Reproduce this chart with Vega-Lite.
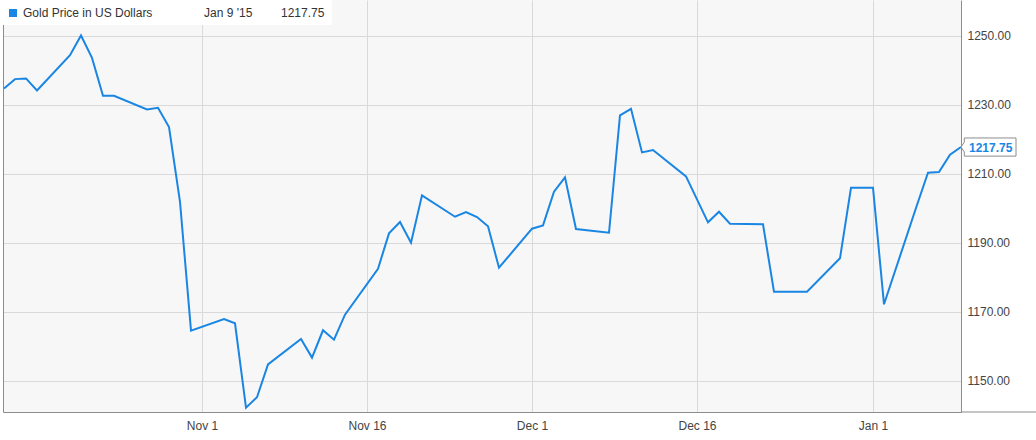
{
  "$schema": "https://vega.github.io/schema/vega-lite/v6.json",
  "width": 958,
  "height": 412,
  "autosize": {"type": "none"},
  "padding": {"left": 3, "top": 0, "right": 75, "bottom": 28},
  "background": "white",
  "config": {
    "view": {"fill": "#f7f7f7", "stroke": null},
    "font": "Liberation Sans",
    "text": {"font": "Liberation Sans"}
  },
  "datasets": {
    "gold": [
      {"date": "2014-10-14", "price": 1234.75},
      {"date": "2014-10-15", "price": 1237.45},
      {"date": "2014-10-16", "price": 1237.65},
      {"date": "2014-10-17", "price": 1234.17},
      {"date": "2014-10-20", "price": 1244.41},
      {"date": "2014-10-21", "price": 1250.12},
      {"date": "2014-10-22", "price": 1243.62},
      {"date": "2014-10-23", "price": 1232.61},
      {"date": "2014-10-24", "price": 1232.6},
      {"date": "2014-10-27", "price": 1228.67},
      {"date": "2014-10-28", "price": 1229.13},
      {"date": "2014-10-29", "price": 1223.54},
      {"date": "2014-10-30", "price": 1201.88},
      {"date": "2014-10-31", "price": 1164.49},
      {"date": "2014-11-03", "price": 1167.88},
      {"date": "2014-11-04", "price": 1166.64},
      {"date": "2014-11-05", "price": 1142.17},
      {"date": "2014-11-06", "price": 1145.19},
      {"date": "2014-11-07", "price": 1154.7},
      {"date": "2014-11-10", "price": 1162.09},
      {"date": "2014-11-11", "price": 1156.67},
      {"date": "2014-11-12", "price": 1164.61},
      {"date": "2014-11-13", "price": 1161.88},
      {"date": "2014-11-14", "price": 1169.13},
      {"date": "2014-11-17", "price": 1182.46},
      {"date": "2014-11-18", "price": 1192.72},
      {"date": "2014-11-19", "price": 1196.0},
      {"date": "2014-11-20", "price": 1190.0},
      {"date": "2014-11-21", "price": 1203.74},
      {"date": "2014-11-24", "price": 1197.54},
      {"date": "2014-11-25", "price": 1198.9},
      {"date": "2014-11-26", "price": 1197.45},
      {"date": "2014-11-27", "price": 1194.75},
      {"date": "2014-11-28", "price": 1182.75},
      {"date": "2014-12-01", "price": 1194.06},
      {"date": "2014-12-02", "price": 1195.04},
      {"date": "2014-12-03", "price": 1204.78},
      {"date": "2014-12-04", "price": 1208.96},
      {"date": "2014-12-05", "price": 1193.97},
      {"date": "2014-12-08", "price": 1192.9},
      {"date": "2014-12-09", "price": 1226.93},
      {"date": "2014-12-10", "price": 1228.84},
      {"date": "2014-12-11", "price": 1216.2},
      {"date": "2014-12-12", "price": 1216.87},
      {"date": "2014-12-15", "price": 1209.25},
      {"date": "2014-12-16", "price": 1202.58},
      {"date": "2014-12-17", "price": 1195.91},
      {"date": "2014-12-18", "price": 1198.99},
      {"date": "2014-12-19", "price": 1195.51},
      {"date": "2014-12-22", "price": 1195.33},
      {"date": "2014-12-23", "price": 1175.8},
      {"date": "2014-12-24", "price": 1175.8},
      {"date": "2014-12-26", "price": 1175.8},
      {"date": "2014-12-29", "price": 1185.48},
      {"date": "2014-12-30", "price": 1205.94},
      {"date": "2014-12-31", "price": 1205.94},
      {"date": "2015-01-01", "price": 1205.94},
      {"date": "2015-01-02", "price": 1172.14},
      {"date": "2015-01-05", "price": 1200.93},
      {"date": "2015-01-06", "price": 1210.29},
      {"date": "2015-01-07", "price": 1210.49},
      {"date": "2015-01-08", "price": 1215.51},
      {"date": "2015-01-09", "price": 1217.75}
    ]
  },
  "resolve": {"axis": {"x": "independent", "y": "independent"}},
  "layer": [
    {
      "data": {"name": "gold"},
      "transform": [
        {"window": [{"op": "row_number", "as": "rn"}], "sort": [{"field": "date", "order": "descending"}]},
        {"filter": "datum.rn == 1"}
      ],
      "mark": {"type": "point", "opacity": 0, "size": 1},
      "encoding": {
        "x": {
          "field": "date", "type": "temporal",
          "axis": {
            "title": null,
            "values": [
              {"year": 2014, "month": 11, "date": 1, "utc": true},
              {"year": 2014, "month": 11, "date": 16, "utc": true},
              {"year": 2014, "month": 12, "date": 1, "utc": true},
              {"year": 2014, "month": 12, "date": 16, "utc": true},
              {"year": 2015, "month": 1, "date": 1, "utc": true}
            ],
            "format": "%b %-d",
            "grid": true, "gridColor": "#d9d9d9",
            "ticks": false,
            "domainColor": "#8c8c8c",
            "labelColor": "#444444", "labelFontSize": 12, "labelFont": "Liberation Sans",
            "labelPadding": 8, "labelFlush": false
          }
        },
        "y": {
          "field": "price", "type": "quantitative",
          "axis": {
            "orient": "right", "title": null,
            "values": [1150, 1170, 1190, 1210, 1230, 1250],
            "format": ".2f",
            "grid": true, "gridColor": "#d9d9d9",
            "ticks": false,
            "domainColor": "#8c8c8c",
            "labelColor": "#444444", "labelFontSize": 12, "labelFont": "Liberation Sans",
            "labelPadding": 6
          }
        }
      }
    },
    {
      "data": {"values": [{}]},
      "mark": {"type": "rect", "fill": "white"},
      "encoding": {
        "x": {"datum": {"year": 2014, "month": 10, "date": 13, "hours": 21, "minutes": 49, "seconds": 5, "utc": true}, "type": "temporal", "axis": null},
        "x2": {"datum": {"year": 2014, "month": 11, "date": 12, "hours": 19, "minutes": 38, "utc": true}},
        "y": {"datum": 1260.4, "type": "quantitative", "axis": null},
        "y2": {"datum": 1253.15}
      }
    },
    {
      "data": {"name": "gold"},
      "mark": {"type": "line", "color": "#1a86e3", "strokeWidth": 2},
      "encoding": {
        "x": {
          "field": "date", "type": "temporal",
          "scale": {"type": "utc", "nice": false, "domain": [
            {"year": 2014, "month": 10, "date": 13, "hours": 21, "minutes": 49, "seconds": 5, "utc": true},
            {"year": 2015, "month": 1, "date": 9, "utc": true}
          ]},
          "axis": null
        },
        "y": {
          "field": "price", "type": "quantitative",
          "scale": {"domain": [1140.9, 1260.4], "zero": false, "nice": false},
          "axis": {"orient": "left", "title": null, "labels": false, "grid": false, "ticks": false, "domainColor": "#8c8c8c"}
        }
      }
    },
    {
      "data": {"values": [{}]},
      "mark": {"type": "rule", "color": "#8c8c8c", "strokeWidth": 1},
      "encoding": {
        "x": {"datum": {"year": 2015, "month": 1, "date": 9, "utc": true}, "type": "temporal", "axis": null},
        "x2": {"datum": {"year": 2015, "month": 1, "date": 16, "utc": true}},
        "y": {"datum": 1140.9, "type": "quantitative", "axis": null}
      }
    },
    {
      "data": {"name": "gold"},
      "transform": [
        {"window": [{"op": "row_number", "as": "rn"}], "sort": [{"field": "date", "order": "descending"}]},
        {"filter": "datum.rn == 1"}
      ],
      "mark": {"type": "point", "shape": "M0,0L0.12,-0.18L0.12,-0.33L2,-0.33L2,0.33L0.12,0.33L0.12,0.18Z", "size": 3025, "filled": true, "fill": "white", "stroke": "#8c8c8c", "strokeWidth": 1, "opacity": 1},
      "encoding": {
        "x": {"field": "date", "type": "temporal", "axis": null},
        "y": {"field": "price", "type": "quantitative", "axis": null}
      }
    },
    {
      "data": {"name": "gold"},
      "transform": [
        {"window": [{"op": "row_number", "as": "rn"}], "sort": [{"field": "date", "order": "descending"}]},
        {"filter": "datum.rn == 1"}
      ],
      "mark": {"type": "text", "align": "left", "baseline": "middle", "dx": 8, "dy": 1, "fontWeight": "bold", "fontSize": 12, "color": "#1a86e3"},
      "encoding": {
        "x": {"field": "date", "type": "temporal", "axis": null},
        "y": {"field": "price", "type": "quantitative", "axis": null},
        "text": {"field": "price", "type": "quantitative", "format": ".2f"}
      }
    },
    {
      "data": {"values": [{}]},
      "mark": {"type": "point", "shape": "square", "size": 64, "filled": true, "color": "#1a86e3", "opacity": 1},
      "encoding": {
        "x": {"datum": {"year": 2014, "month": 10, "date": 14, "hours": 19, "minutes": 38, "utc": true}, "type": "temporal", "axis": null},
        "y": {"datum": 1256.63, "type": "quantitative", "axis": null}
      }
    },
    {
      "data": {"values": [{}]},
      "mark": {"type": "text", "align": "left", "baseline": "middle", "fontSize": 12, "color": "#333333"},
      "encoding": {
        "x": {"datum": {"year": 2014, "month": 10, "date": 15, "hours": 17, "minutes": 27, "utc": true}, "type": "temporal", "axis": null},
        "y": {"datum": 1256.63, "type": "quantitative", "axis": null},
        "text": {"value": "Gold Price in US Dollars"}
      }
    },
    {
      "data": {"values": [{}]},
      "mark": {"type": "text", "align": "left", "baseline": "middle", "fontSize": 12, "color": "#333333"},
      "encoding": {
        "x": {"datum": {"year": 2014, "month": 11, "date": 1, "hours": 4, "minutes": 22, "utc": true}, "type": "temporal", "axis": null},
        "y": {"datum": 1256.63, "type": "quantitative", "axis": null},
        "text": {"value": "Jan 9 '15"}
      }
    },
    {
      "data": {"values": [{}]},
      "mark": {"type": "text", "align": "left", "baseline": "middle", "fontSize": 12, "color": "#333333"},
      "encoding": {
        "x": {"datum": {"year": 2014, "month": 11, "date": 8, "hours": 4, "minutes": 22, "utc": true}, "type": "temporal", "axis": null},
        "y": {"datum": 1256.63, "type": "quantitative", "axis": null},
        "text": {"value": "1217.75"}
      }
    }
  ]
}
